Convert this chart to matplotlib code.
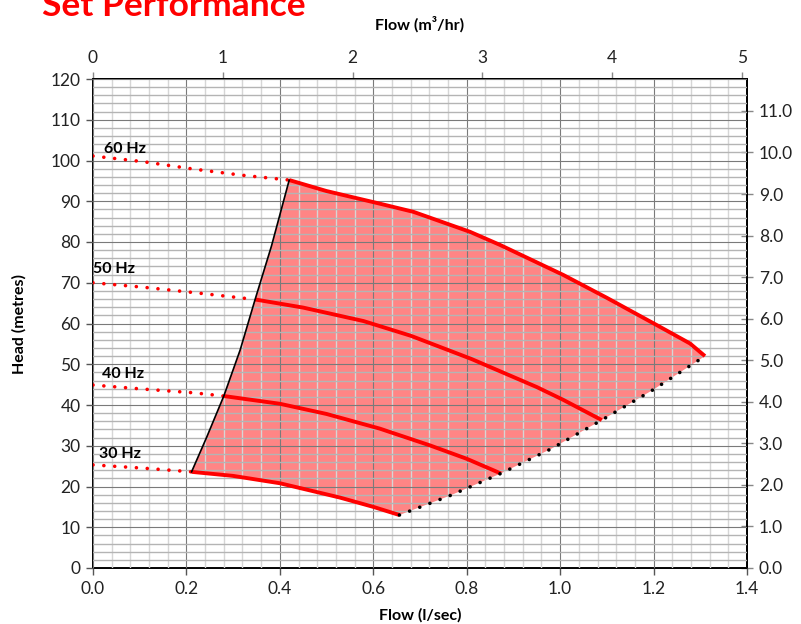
import matplotlib
matplotlib.use("Agg")
import matplotlib.pyplot as plt
from matplotlib.ticker import MultipleLocator, FormatStrFormatter

plt.rcParams['font.family'] = ['Lato', 'DejaVu Sans']

# ---- data (flow l/s, head m) ----
q60 = [0.420, 0.500, 0.607, 0.686, 0.807, 0.871, 1.007, 1.100, 1.207, 1.278, 1.310]
h60 = [95.2, 92.5, 89.6, 87.4, 82.5, 79.3, 71.9, 66.3, 59.6, 55.1, 52.0]
q50 = [0.347, 0.450, 0.579, 0.680, 0.810, 0.950, 1.006, 1.089]
h50 = [65.9, 63.9, 60.6, 57.0, 51.3, 44.4, 41.3, 36.3]
q40 = [0.280, 0.400, 0.500, 0.614, 0.721, 0.800, 0.873]
h40 = [42.2, 40.3, 37.8, 34.2, 30.1, 26.8, 23.2]
q30 = [0.211, 0.300, 0.400, 0.528, 0.600, 0.656]
h30 = [23.6, 22.6, 20.8, 17.3, 15.0, 13.0]

# dotted extensions to zero flow
q60_ext = [0.0, 0.108, 0.215, 0.318, 0.420]
h60_ext = [101.1, 99.7, 97.9, 96.4, 95.2]
q50_ext = [0.0, 0.108, 0.215, 0.347]
h50_ext = [70.0, 68.9, 67.6, 65.9]
q40_ext = [0.0, 0.108, 0.215, 0.280]
h40_ext = [44.9, 43.9, 43.0, 42.2]
q30_ext = [0.0, 0.108, 0.211]
h30_ext = [25.3, 24.5, 23.6]

# minimum-flow boundary (solid black) and maximum-flow boundary (dotted black)
q_min = [0.211, 0.243, 0.280, 0.315, 0.347, 0.382, 0.420]
h_min = [23.6, 32.0, 42.2, 53.5, 65.9, 79.0, 95.2]
q_max = [0.656, 0.765, 0.873, 0.980, 1.089, 1.200, 1.310]
h_max = [13.0, 17.8, 23.2, 29.2, 36.3, 43.8, 52.0]

freq_labels = ['60 Hz', '50 Hz', '40 Hz', '30 Hz']
label_q = [0.024, 0.0, 0.019, 0.013]
label_h = [101.8, 72.3, 46.6, 26.9]

x_ticks = [0.0, 0.2, 0.4, 0.6, 0.8, 1.0, 1.2, 1.4]
y_ticks = list(range(0, 121, 10))
top_ticks = [0, 1, 2, 3, 4, 5]
right_ticks = [0.0, 1.0, 2.0, 3.0, 4.0, 5.0, 6.0, 7.0, 8.0, 9.0, 10.0, 11.0]

M3HR_PER_LS = 3.6
M_PER_BAR = 10.197

fig = plt.figure(figsize=(8.01, 6.24), dpi=100)
ax = fig.add_axes([93/801, 1-568/624, (747-93)/801, (568-79)/624])

ax.set_xlim(0, 1.4)
ax.set_ylim(0, 120)

# grid
ax.xaxis.set_minor_locator(MultipleLocator(0.04))
ax.yaxis.set_minor_locator(MultipleLocator(2))
ax.set_xticks(x_ticks)
ax.set_yticks(y_ticks)
ax.grid(which='minor', axis='x', color='#d6d6d6', lw=1.0, zorder=0)
ax.grid(which='minor', axis='y', color='#b4b4b4', lw=1.0, zorder=0)
ax.grid(which='major', color='#7a7a7a', lw=0.8, zorder=0.5)
ax.set_axisbelow(False)

# fill region
poly_q = list(q30) + list(q_max[1:]) + list(q60[::-1][1:]) + list(q_min[::-1][1:])
poly_h = list(h30) + list(h_max[1:]) + list(h60[::-1][1:]) + list(h_min[::-1][1:])
ax.fill(poly_q, poly_h, color='#ff0000', alpha=0.48, lw=0, zorder=1)

# curves
for q, h in [(q60, h60), (q50, h50), (q40, h40), (q30, h30)]:
    ax.plot(q, h, color='#ff0000', lw=2.8, solid_capstyle='butt', solid_joinstyle='round', zorder=3)
for q, h in [(q60_ext, h60_ext), (q50_ext, h50_ext), (q40_ext, h40_ext), (q30_ext, h30_ext)]:
    ax.plot(q, h, color='#ff0000', lw=2.6, linestyle=(0, (0.01, 3.0)),
            dash_capstyle='round', zorder=3)
ax.plot(q_min, h_min, color='black', lw=1.2, zorder=4)
ax.plot(q_max, h_max, color='black', lw=2.6, linestyle=(0, (0.01, 3.0)),
        dash_capstyle='round', zorder=4)

for t, qq, hh in zip(freq_labels, label_q, label_h):
    ax.text(qq, hh, t, fontsize=11.5, fontweight='bold', ha='left', va='baseline', zorder=5)

# ticks
ax.tick_params(which='minor', length=0)
ax.tick_params(which='major', direction='out', length=5, width=1, labelsize=12.5,
               colors='#555555', labelcolor='#222222', pad=4)
ax.xaxis.set_major_formatter(FormatStrFormatter('%.1f'))
for s in ax.spines.values():
    s.set_color('black')
    s.set_linewidth(1.4)

secx = ax.secondary_xaxis('top', functions=(lambda x: x * M3HR_PER_LS, lambda x: x / M3HR_PER_LS))
secx.set_xticks(top_ticks)
secx.tick_params(direction='out', length=5, width=1, labelsize=12.5, colors='#888888', labelcolor='#222222', pad=4)
secx.spines['top'].set_linewidth(1.4)

secy = ax.secondary_yaxis('right', functions=(lambda y: y / M_PER_BAR, lambda y: y * M_PER_BAR))
secy.set_yticks(right_ticks)
secy.yaxis.set_major_formatter(FormatStrFormatter('%.1f'))
secy.tick_params(direction='inout', length=9, width=1, labelsize=12.5, colors='#888888', labelcolor='#222222', pad=4)
secy.spines['right'].set_linewidth(1.4)

ax.set_xlabel('Flow (l/sec)', fontsize=11.5, fontweight='bold', labelpad=8.5)
ax.set_ylabel('Head (metres)', fontsize=11.5, fontweight='bold', labelpad=17)
secx.set_xlabel('Flow (m³/hr)', fontsize=11.5, fontweight='bold', labelpad=15)

fig.text(42/801, 1-16/624, 'Set Performance', color='#ff0000', fontsize=25.5,
         fontweight='bold', ha='left', va='baseline')

fig.savefig('out.png', dpi=100)
